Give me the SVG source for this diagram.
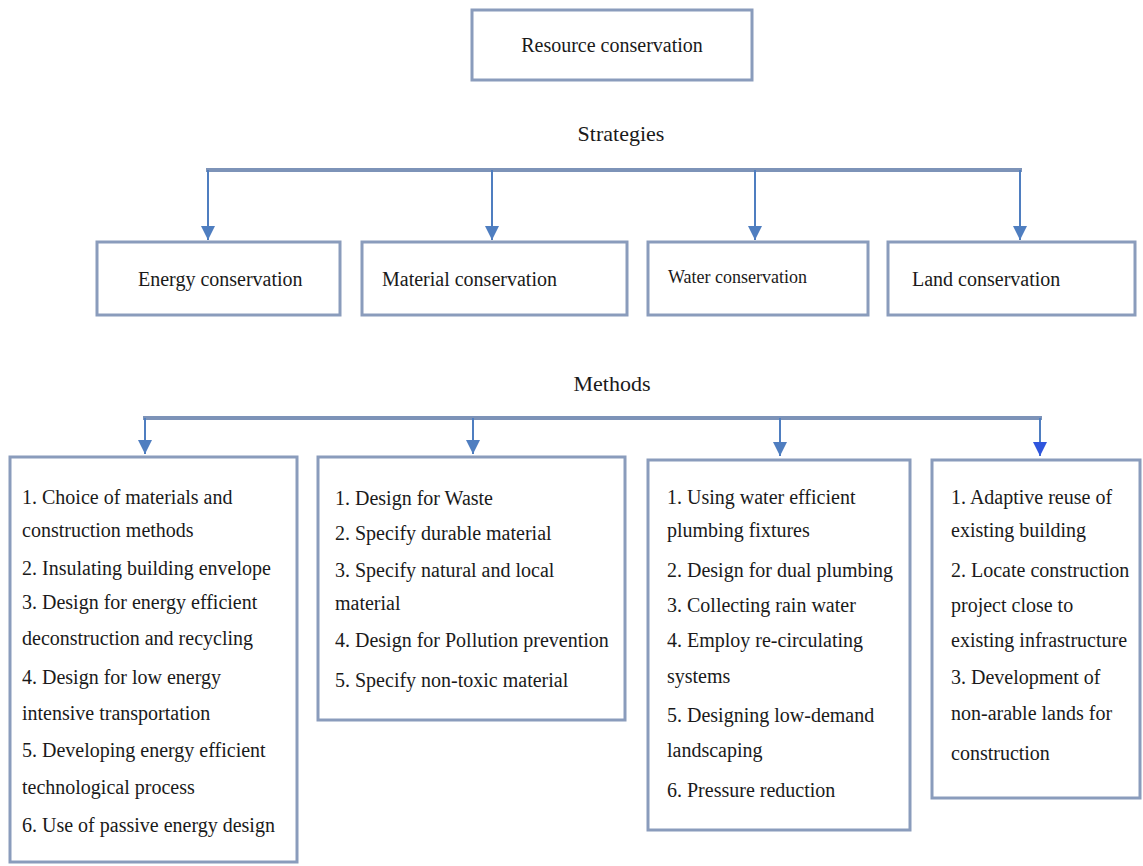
<svg xmlns="http://www.w3.org/2000/svg" width="1143" height="866" viewBox="0 0 1143 866">
<style>
.box{fill:#ffffff;stroke:#8a9cbc;stroke-width:3}
.t{font-family:"Liberation Serif","Times New Roman",serif;font-size:20px;fill:#1a1a1a}
.c{text-anchor:middle}
.bus{fill:none;stroke:#7d93b8;stroke-width:4}
.drop{fill:none;stroke:#4f7ec0;stroke-width:2}
</style>
<defs>
<marker id="ah" markerUnits="userSpaceOnUse" markerWidth="16" markerHeight="14" refX="14" refY="7" orient="auto">
<path d="M0,0 L14,7 L0,14 Z" fill="#4f7ec0"/>
</marker>
<marker id="ah2" markerUnits="userSpaceOnUse" markerWidth="16" markerHeight="14" refX="14" refY="7" orient="auto">
<path d="M0,0 L14,7 L0,14 Z" fill="#2f55dd"/>
</marker>
</defs>
<rect width="1143" height="866" fill="#ffffff"/>
<g id="connectors">
<line class="bus" x1="206" y1="170" x2="1022" y2="170"/>
<line class="drop" x1="208" y1="170" x2="208" y2="240" marker-end="url(#ah)"/>
<line class="drop" x1="492" y1="170" x2="492" y2="240" marker-end="url(#ah)"/>
<line class="drop" x1="755" y1="170" x2="755" y2="240" marker-end="url(#ah)"/>
<line class="drop" x1="1020" y1="170" x2="1020" y2="240" marker-end="url(#ah)"/>
<line class="bus" x1="143" y1="418" x2="1042" y2="418"/>
<line class="drop" x1="145" y1="418" x2="145" y2="454" marker-end="url(#ah)"/>
<line class="drop" x1="473" y1="418" x2="473" y2="454" marker-end="url(#ah)"/>
<line class="drop" x1="780" y1="418" x2="780" y2="456" marker-end="url(#ah)"/>
<line class="drop" x1="1040" y1="418" x2="1040" y2="456" stroke="#2f55dd" marker-end="url(#ah2)"/>
</g>
<g id="root">
<rect class="box" x="472" y="10" width="280" height="70"/>
<text class="t c" x="612" y="52">Resource conservation</text>
</g>
<g id="label-strategies">
<text class="t c" x="621" y="141" style="font-size:22px">Strategies</text>
</g>
<g id="energy">
<rect class="box" x="97" y="242" width="243" height="73"/>
<text class="t" x="138" y="286">Energy conservation</text>
</g>
<g id="material">
<rect class="box" x="362" y="242" width="265" height="73"/>
<text class="t" x="382" y="286">Material conservation</text>
</g>
<g id="water">
<rect class="box" x="648" y="242" width="220" height="73"/>
<text class="t" x="668" y="283" style="font-size:18px">Water conservation</text>
</g>
<g id="land">
<rect class="box" x="888" y="242" width="247" height="73"/>
<text class="t" x="912" y="286">Land conservation</text>
</g>
<g id="label-methods">
<text class="t c" x="612" y="391" style="font-size:22px">Methods</text>
</g>
<g id="methods-energy">
<rect class="box" x="10" y="457" width="287" height="405"/>
<text class="t" x="22" y="504">1. Choice of materials and</text>
<text class="t" x="22" y="537">construction methods</text>
<text class="t" x="22" y="575">2. Insulating building envelope</text>
<text class="t" x="22" y="609">3. Design for energy efficient</text>
<text class="t" x="22" y="645">deconstruction and recycling</text>
<text class="t" x="22" y="684">4. Design for low energy</text>
<text class="t" x="22" y="720">intensive transportation</text>
<text class="t" x="22" y="757">5. Developing energy efficient</text>
<text class="t" x="22" y="794">technological process</text>
<text class="t" x="22" y="832">6. Use of passive energy design</text>
</g>
<g id="methods-material">
<rect class="box" x="318" y="457" width="307" height="263"/>
<text class="t" x="335" y="505">1. Design for Waste</text>
<text class="t" x="335" y="540">2. Specify durable material</text>
<text class="t" x="335" y="577">3. Specify natural and local</text>
<text class="t" x="335" y="610">material</text>
<text class="t" x="335" y="647">4. Design for Pollution prevention</text>
<text class="t" x="335" y="687">5. Specify non-toxic material</text>
</g>
<g id="methods-water">
<rect class="box" x="648" y="460" width="262" height="370"/>
<text class="t" x="667" y="504">1. Using water efficient</text>
<text class="t" x="667" y="537">plumbing fixtures</text>
<text class="t" x="667" y="577">2. Design for dual plumbing</text>
<text class="t" x="667" y="612">3. Collecting rain water</text>
<text class="t" x="667" y="647">4. Employ re-circulating</text>
<text class="t" x="667" y="683">systems</text>
<text class="t" x="667" y="722">5. Designing low-demand</text>
<text class="t" x="667" y="757">landscaping</text>
<text class="t" x="667" y="797">6. Pressure reduction</text>
</g>
<g id="methods-land">
<rect class="box" x="932" y="460" width="208" height="338"/>
<text class="t" x="951" y="504">1. Adaptive reuse of</text>
<text class="t" x="951" y="537">existing building</text>
<text class="t" x="951" y="577">2. Locate construction</text>
<text class="t" x="951" y="612">project close to</text>
<text class="t" x="951" y="647">existing infrastructure</text>
<text class="t" x="951" y="684">3. Development of</text>
<text class="t" x="951" y="720">non-arable lands for</text>
<text class="t" x="951" y="760">construction</text>
</g>
</svg>
